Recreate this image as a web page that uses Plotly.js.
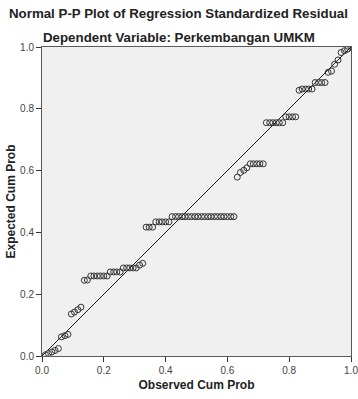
<!DOCTYPE html>
<html>
<head>
<meta charset="utf-8">
<script src="https://cdn.plot.ly/plotly-3.0.1.min.js"></script>
<style>
html,body{margin:0;padding:0;background:#fff;}
#chart{width:358px;height:399px;}
</style>
</head>
<body>
<div id="chart"></div>
<script>
// Observed cumulative probability (i/n, n = 95)
var observedCumProb = [
0.011,0.021,0.032,0.042,0.053,
0.063,0.074,0.084,
0.095,0.105,0.116,0.126,
0.137,0.147,
0.158,0.168,0.179,0.189,0.200,0.211,
0.221,0.232,0.242,0.253,
0.263,0.274,0.284,0.295,0.305,
0.316,0.326,
0.337,0.347,0.358,
0.368,0.379,0.389,0.400,0.411,
0.421,0.432,0.442,0.453,0.463,0.474,0.484,0.495,0.505,0.516,
0.526,0.537,0.547,0.558,0.568,0.579,0.589,0.600,0.611,0.621,
0.632,0.642,0.653,0.663,
0.674,0.684,0.695,0.705,0.716,
0.726,0.737,0.747,0.758,0.768,0.779,
0.789,0.800,0.811,0.821,
0.832,0.842,0.853,0.863,0.874,
0.884,0.895,0.905,0.916,
0.926,0.937,
0.947,0.958,
0.968,0.979,0.989,1.000
];
// Expected cumulative probability
var expectedCumProb = [
0.004,0.008,0.013,0.018,0.024,
0.062,0.066,0.070,
0.136,0.142,0.150,0.158,
0.245,0.246,
0.259,0.259,0.259,0.259,0.259,0.259,
0.272,0.272,0.272,0.272,
0.285,0.285,0.285,0.285,0.285,
0.294,0.300,
0.417,0.417,0.417,
0.434,0.434,0.434,0.434,0.434,
0.451,0.451,0.451,0.451,0.451,0.451,0.451,0.451,0.451,0.451,
0.451,0.451,0.451,0.451,0.451,0.451,0.451,0.451,0.451,0.451,
0.579,0.594,0.601,0.609,
0.622,0.622,0.622,0.622,0.622,
0.755,0.755,0.755,0.755,0.755,0.755,
0.774,0.774,0.774,0.774,
0.860,0.864,0.864,0.864,0.864,
0.885,0.885,0.885,0.885,
0.918,0.922,
0.944,0.958,
0.982,0.988,0.993,0.998
];
var diagonal = [0, 1];
var tickVals = [0, 0.2, 0.4, 0.6, 0.8, 1.0];
var tickText = ["0.0", "0.2", "0.4", "0.6", "0.8", "1.0"];
var titleLine1 = "Normal P-P Plot of Regression Standardized Residual";
var titleLine2 = "Dependent Variable: Perkembangan UMKM";
var xTitle = "Observed Cum Prob";
var yTitle = "Expected Cum Prob";

var FONT = "Liberation Sans, Arial, Helvetica, sans-serif";

var traces = [
  {
    x: diagonal, y: diagonal, type: "scatter", mode: "lines",
    line: {color: "#1a1a1a", width: 1}, hoverinfo: "skip", showlegend: false
  },
  {
    x: observedCumProb, y: expectedCumProb, type: "scatter", mode: "markers",
    marker: {symbol: "circle-open", size: 6, color: "#333333", line: {width: 1, color: "#333333"}},
    showlegend: false
  }
];

var axisCommon = {
  range: [0, 1], autorange: false, showgrid: false, zeroline: false,
  showline: true, mirror: true, linecolor: "#5a5a5a", linewidth: 1,
  ticks: "outside", ticklen: 5, tickwidth: 1, tickcolor: "#333",
  tickvals: tickVals, ticktext: tickText, ticklabeloverflow: "allow",
  tickfont: {family: FONT, size: 10, color: "#444"}
};

var layout = {
  width: 358, height: 399,
  margin: {l: 42, r: 7, t: 47, b: 43, pad: 0},
  paper_bgcolor: "#ffffff", plot_bgcolor: "#f0f0f0",
  showlegend: false,
  xaxis: Object.assign({}, axisCommon, {
    title: {text: "<b>" + xTitle + "</b>", font: {family: FONT, size: 12, color: "#222"}, standoff: 5}
  }),
  yaxis: Object.assign({}, axisCommon, {
    title: {text: "<b>" + yTitle + "</b>", font: {family: FONT, size: 12, color: "#222"}, standoff: 1}
  }),
  annotations: [
    {text: "<b>" + titleLine1 + "</b>", xref: "paper", yref: "paper", x: 0.443, y: 1,
     xanchor: "center", yanchor: "middle", yshift: 34, showarrow: false,
     font: {family: FONT, size: 13.3, color: "#222"}},
    {text: "<b>" + titleLine2 + "</b>", xref: "paper", yref: "paper", x: 0.443, y: 1,
     xanchor: "center", yanchor: "middle", yshift: 10, showarrow: false,
     font: {family: FONT, size: 13.3, color: "#222"}}
  ]
};

Plotly.newPlot("chart", traces, layout, {displayModeBar: false, staticPlot: true});
</script>
</body>
</html>
